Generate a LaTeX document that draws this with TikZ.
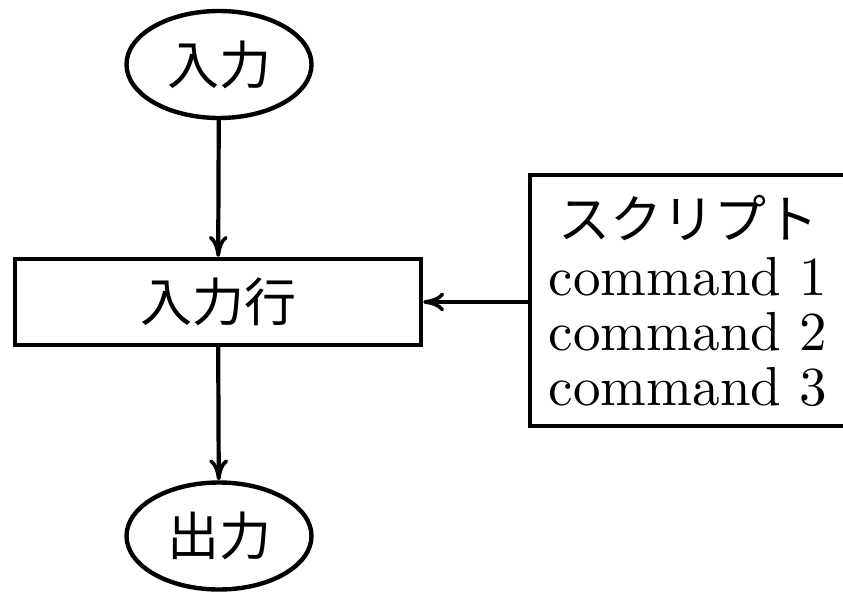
\documentclass[tikz,border=0pt]{standalone}
\usepackage{fontspec}
\usepackage{graphicx}
\newfontfamily\jpfont{Noto Sans CJK JP}
\usetikzlibrary{shapes.geometric,arrows.meta}
\tikzset{
  term/.style={draw, ellipse, line width=4.4pt, inner sep=0pt,
    minimum width=185pt, minimum height=107pt, font=\jpfont\fontsize{52}{60}\selectfont},
  procbox/.style={draw, rectangle, line width=4.4pt, inner sep=0pt,
    minimum width=406pt, minimum height=86pt, font=\jpfont\fontsize{52}{60}\selectfont},
  scriptbox/.style={draw, rectangle, line width=4.4pt, inner sep=0pt,
    minimum width=316pt, minimum height=251pt, align=center,
    font=\fontsize{46}{55}\selectfont},
  flow/.style={line width=4.2pt,
    -{Computer Modern Rightarrow[length=21pt,width=19pt,line width=3.6pt]}}
}
\newcommand{\cmdline}[1]{\scalebox{5.5}{\fontsize{10}{12}\selectfont #1}}
\begin{document}
\begin{tikzpicture}[x=1pt,y=1pt]
\useasboundingbox (0,0) rectangle (843,-594);
\clip (0,0) rectangle (843,-594);
\node[term] (in) at (219,-64.5) {入力};
\node[procbox] (line) at (218,-302) {入力行};
\node[term] (out) at (219,-536) {出力};
\node[scriptbox] (script) at (688,-300.5) {{\jpfont\fontsize{52}{60}\selectfont スクリプト}\\[2pt]
\cmdline{command 1}\\
\cmdline{command 2}\\
\cmdline{command 3}};
\draw[flow] (in) -- (line);
\draw[flow] (line) -- (out);
\draw[flow] (script.west |- line.east) -- (line.east);
\end{tikzpicture}
\end{document}
